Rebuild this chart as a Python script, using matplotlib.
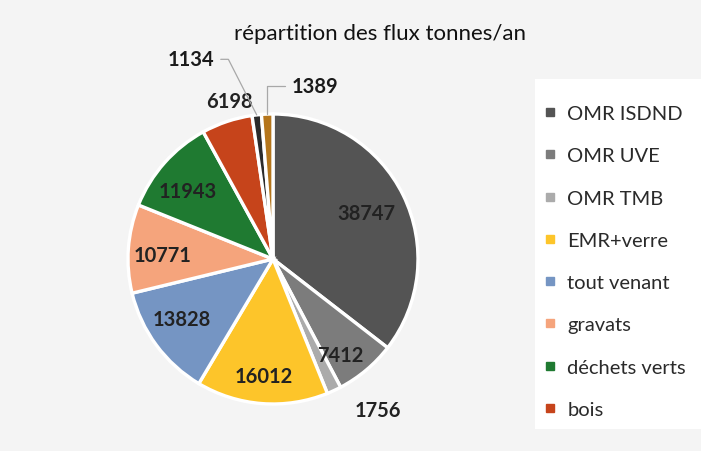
import numpy as np
import matplotlib
matplotlib.use("Agg")
import matplotlib.pyplot as plt
from matplotlib.lines import Line2D
from matplotlib.patches import Rectangle

plt.rcParams['font.family'] = ['Lato', 'DejaVu Sans']

# data (tonnes / an)
categories = ['OMR ISDND', 'OMR UVE', 'OMR TMB', 'EMR+verre', 'tout venant',
              'gravats', 'déchets verts', 'bois', '', '']
values = [38747, 7412, 1756, 16012, 13828, 10771, 11943, 6198, 1134, 1389]
colors = ['#545454', '#7c7c7c', '#ababab', '#fdc52a', '#7595c3',
          '#f5a47c', '#1f7a31', '#c6441b', '#2b2b2b', '#b5761c']

# label placement: radius factor and angular shift (deg) from slice middle
label_r = [0.72, 0.81, 1.27, 0.81, 0.75, 0.76, 0.75, 1.13, 1.49, 1.23]
label_shift = [0, 5, -10, 0, 3, -2, -3, 3, -16, 16]
leader_angle = {8: 117, 9: 90}
n_legend = 8

fig = plt.figure(figsize=(7.01, 4.52), dpi=100, facecolor='#f4f4f4')

# white legend panel
fig.patches.append(Rectangle((535/701, 1-430/452), 166/701, 350/452,
                             transform=fig.transFigure, facecolor='white',
                             edgecolor='none', zorder=0))

ax = fig.add_axes([128/701, 1-405/452, 290/701, 290/452])
ax.set_facecolor('none')
wedges, _ = ax.pie(values, colors=colors, startangle=90, counterclock=False,
                   radius=1.0,
                   wedgeprops=dict(edgecolor='white', linewidth=2.4))
ax.set_xlim(-1, 1)
ax.set_ylim(-1, 1)
ax.set_aspect('equal')
ax.axis('off')

total = float(sum(values))
cum = np.cumsum([0] + values)
for i, v in enumerate(values):
    mid = (cum[i] + cum[i+1]) / 2 / total * 360.0
    th = np.radians(mid + label_shift[i])
    x, y = label_r[i] * np.sin(th), label_r[i] * np.cos(th)
    if i in leader_angle:
        th0 = np.radians(mid)
        ax.annotate(str(v), xy=(np.sin(th0), np.cos(th0)), xytext=(x, y),
                    ha='center', va='center', fontsize=14.5, fontweight='bold',
                    color='#1a1a1a', annotation_clip=False,
                    arrowprops=dict(arrowstyle='-', color='#a8a8a8', lw=0.9,
                                    shrinkA=3, shrinkB=0,
                                    connectionstyle='angle,angleA=0,angleB=%d'
                                    % leader_angle[i]))
    else:
        ax.text(x, y, str(v), ha='center', va='center', fontsize=14.5,
                fontweight='bold', color='#222222')

fig.text(380/701, 1-34/452, 'répartition des flux tonnes/an', ha='center',
         va='center', fontsize=16, color='#111111')

handles = [Line2D([], [], marker='s', ls='', color=c, markersize=6)
           for c in colors[:n_legend]]
fig.legend(handles, categories[:n_legend], loc='upper left',
           bbox_to_anchor=(542/701, 1-106/452), frameon=False,
           fontsize=14.5, labelspacing=1.25, handlelength=0.8,
           handletextpad=0.45, borderpad=0, borderaxespad=0,
           labelcolor='#2a2a2a')

fig.savefig('out.png', dpi=100, facecolor=fig.get_facecolor())
